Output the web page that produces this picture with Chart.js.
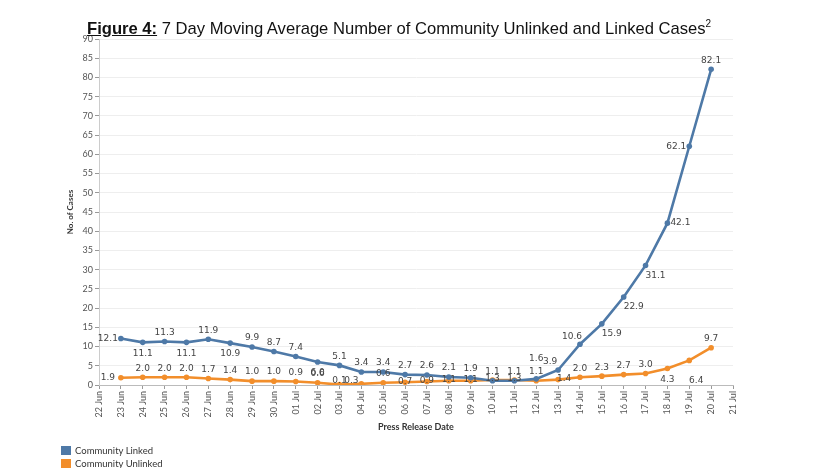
<!DOCTYPE html>
<html>
<head>
<meta charset="utf-8">
<script src="https://cdn.jsdelivr.net/npm/chart.js@4.4.0/dist/chart.umd.min.js"></script>
<style>
    body { margin: 0; background: #fff; }
    #wrap { position: relative; width: 830px; height: 468px; overflow: hidden; }
    #title {
        position: absolute; left: 87px; top: 20px; white-space: nowrap;
        font-family: "Liberation Sans", Arial, sans-serif; font-size: 16.6px; line-height: 17px; color: #111;
    }
    #title b { text-decoration: underline; }
    #title sup { font-size: 10px; vertical-align: 7px; line-height: 0; }
    #legend { position: absolute; left: 61px; top: 446px; font-family: Lato, sans-serif; font-size: 9.5px; color: #333; }
    #legend div { height: 13px; line-height: 10px; }
    #legend span { display: inline-block; width: 10px; height: 9px; margin-right: 4px; vertical-align: top; }
</style>
</head>
<body>
<div id="wrap">
    <canvas id="chart" width="830" height="468"></canvas>
    <div id="title"><b>Figure 4:</b> 7 Day Moving Average Number of Community Unlinked and Linked Cases<sup>2</sup></div>
    <div id="legend">
        <div><span style="background:#4e79a7"></span>Community Linked</div>
        <div><span style="background:#f28e2b"></span>Community Unlinked</div>
    </div>
</div>
<script>
// Dados
const dates = ['22 Jun', '23 Jun', '24 Jun', '25 Jun', '26 Jun', '27 Jun', '28 Jun', '29 Jun', '30 Jun',
    '01 Jul', '02 Jul', '03 Jul', '04 Jul', '05 Jul', '06 Jul', '07 Jul', '08 Jul', '09 Jul', '10 Jul',
    '11 Jul', '12 Jul', '13 Jul', '14 Jul', '15 Jul', '16 Jul', '17 Jul', '18 Jul', '19 Jul', '20 Jul', '21 Jul'];

const linked = [null, 12.1, 11.1, 11.3, 11.1, 11.9, 10.9, 9.9, 8.7, 7.4, 6.0, 5.1, 3.4, 3.4, 2.7, 2.6,
    2.1, 1.9, 1.1, 1.1, 1.6, 3.9, 10.6, 15.9, 22.9, 31.1, 42.1, 62.1, 82.1, null];

const unlinked = [null, 1.9, 2.0, 2.0, 2.0, 1.7, 1.4, 1.0, 1.0, 0.9, 0.6, 0.1, 0.3, 0.6, 0.7, 0.9,
    1.1, 1.1, 1.3, 1.3, 1.1, 1.4, 2.0, 2.3, 2.7, 3.0, 4.3, 6.4, 9.7, null];

const yTicks = { min: 0, max: 90, step: 5 };

// Posição dos rótulos (estilo, não dados)
const labelOffsets = {
    a: [0, -9], A: [0, -20], b: [0, 11], l: [-13, 0], r: [13, 0], c: [0, -1],
    al: [-8, -8], br: [10, 10], B: [7, 20], sa: [0, -4], sl: [-10, -3], sr: [6, -1]
};
const linkedPos = [null, 'l', 'b', 'a', 'b', 'a', 'b', 'a', 'a', 'a', 'b', 'a', 'a', 'a', 'a', 'a',
    'a', 'a', 'a', 'a', 'A', 'al', 'al', 'br', 'br', 'br', 'r', 'l', 'a', null];
const unlinkedPos = [null, 'l', 'a', 'a', 'a', 'a', 'a', 'a', 'a', 'a', 'a', 'sa', 'sl', 'a', 'c', 'c',
    'c', 'c', 'c', 'c', 'a', 'sr', 'a', 'a', 'a', 'a', 'b', 'B', 'a', null];

// Plugin simples para os valores nos pontos
const valueLabels = {
    id: 'valueLabels',
    afterDatasetsDraw(chart) {
        const ctx = chart.ctx;
        ctx.save();
        ctx.font = '9px "DejaVu Sans", sans-serif';
        ctx.fillStyle = '#444';
        ctx.textAlign = 'center';
        ctx.textBaseline = 'middle';
        chart.data.datasets.forEach((ds, i) => {
            const meta = chart.getDatasetMeta(i);
            meta.data.forEach((pt, j) => {
                const v = ds.data[j];
                const code = ds.labelPos[j];
                if (v === null || !code) return;
                const [dx, dy] = labelOffsets[code];
                ctx.fillText(v.toFixed(1), pt.x + dx, pt.y + dy);
            });
        });
        ctx.restore();
    }
};

new Chart(document.getElementById('chart'), {
    type: 'line',
    data: {
        labels: dates,
        datasets: [{
            label: 'Community Linked',
            data: linked,
            labelPos: linkedPos,
            borderColor: '#4e79a7',
            backgroundColor: '#4e79a7',
            borderWidth: 2.6,
            pointRadius: 2.8,
            pointBorderWidth: 0,
            pointHoverRadius: 2.8,
            tension: 0
        }, {
            label: 'Community Unlinked',
            data: unlinked,
            labelPos: unlinkedPos,
            borderColor: '#f28e2b',
            backgroundColor: '#f28e2b',
            borderWidth: 2.6,
            pointRadius: 2.8,
            pointBorderWidth: 0,
            pointHoverRadius: 2.8,
            tension: 0
        }]
    },
    options: {
        responsive: false,
        animation: false,
        layout: { padding: { left: 60, right: 97, top: 39, bottom: 32 } },
        plugins: { legend: { display: false }, tooltip: { enabled: false } },
        scales: {
            x: {
                offset: false,
                afterFit: (s) => { s.height = 51; },
                grid: { drawOnChartArea: false, tickLength: 4, tickColor: '#999' },
                border: { color: '#bbb' },
                ticks: {
                    autoSkip: false, maxRotation: 90, minRotation: 90, padding: 2,
                    color: '#555', font: { family: 'Lato, sans-serif', size: 9 }
                },
                title: {
                    display: true, text: 'Press Release Date', color: '#333',
                    font: { family: 'Lato, sans-serif', size: 9, weight: 'bold' },
                    padding: { top: 0, bottom: 4 }
                }
            },
            y: {
                min: yTicks.min,
                max: yTicks.max,
                afterFit: (s) => { s.width = 39; },
                grid: { color: '#eeeeee', tickLength: 4, tickColor: '#999' },
                border: { color: '#ccc' },
                ticks: {
                    stepSize: yTicks.step, padding: 2,
                    color: '#555', font: { family: 'Lato, sans-serif', size: 9 }
                },
                title: {
                    display: true, text: 'No. of Cases', color: '#333',
                    font: { family: 'Lato, sans-serif', size: 8, weight: 'bold' },
                    padding: { top: 6, bottom: 0 }
                }
            }
        }
    },
    plugins: [valueLabels]
});
</script>
</body>
</html>
